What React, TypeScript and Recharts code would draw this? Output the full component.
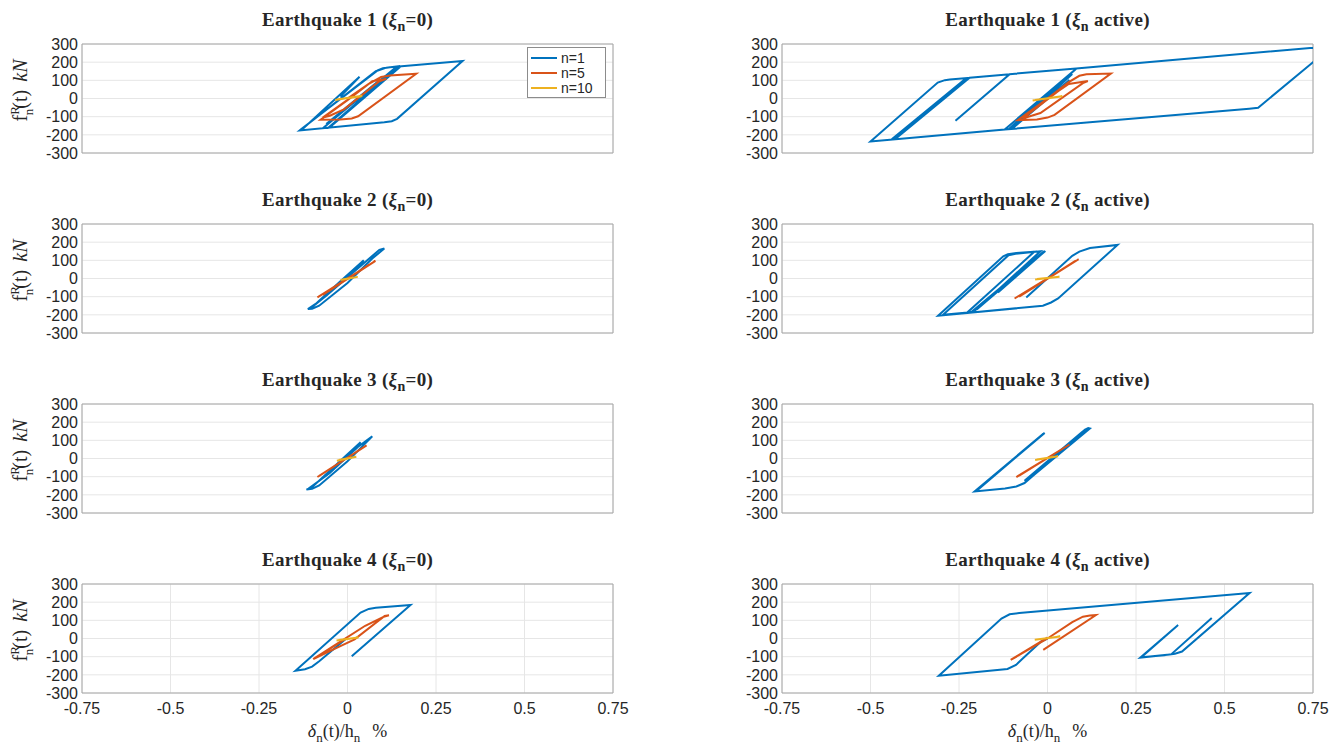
import React from 'react';
import { LineChart, Line, XAxis, YAxis, CartesianGrid, ReferenceArea, Legend } from 'recharts';

type P = [number, number];

const xTicks = [-0.75, -0.5, -0.25, 0, 0.25, 0.5, 0.75];
const yTicks = [-300, -200, -100, 0, 100, 200, 300];
const seriesNames = ['n=1', 'n=5', 'n=10'];
const seriesColors = ['#0072BD', '#D95319', '#EDB120'];
const earthquakeLabels = ['Earthquake 1', 'Earthquake 2', 'Earthquake 3', 'Earthquake 4'];

// Earthquake 1, xi_n = 0
const eq1ZeroN1: P[] = [
  [-0.02, 10], [0.034, 120], [-0.05, -30], [-0.125, -165], [-0.135, -175],
  [0.085, 155], [0.1, 166], [0.12, 172], [0.325, 207],
  [0.14, -112], [0.125, -125], [0.104, -131], [-0.135, -176],
  [0.08, 150], [0.11, 170], [0.14, 177],
  [-0.067, -160], [-0.055, -162], [0.145, 178],
  [-0.05, -158], [0.15, 176], [-0.06, -140], [0.09, 100],
];
const eq1ZeroN5: P[] = [
  [0, 0], [0.06, 80], [0.095, 118], [0.12, 126], [0.194, 136],
  [0.03, -98], [0.012, -110], [-0.02, -116], [-0.076, -117],
  [0.0, -10], [0.07, 95], [0.11, 108], [0.09, 95], [-0.01, -60],
  [-0.05, -95], [-0.07, -105], [0.02, 20],
];
const eq1ZeroN10: P[] = [[-0.035, -8], [0.042, 15], [-0.03, -5], [0.04, 12]];

// Earthquake 1, xi_n active
const eq1ActiveN1: P[] = [
  [0, 0], [0.062, 102], [-0.1, -167], [0.07, 135], [-0.11, -169], [0.081, 164], [-0.121, -171],
  [-0.5, -236], [-0.31, 88], [-0.29, 101], [-0.276, 105], [-0.226, 113],
  [-0.44, -225], [-0.23, 112], [-0.435, -224], [-0.224, 113], [-0.43, -223], [-0.22, 114],
  [-0.107, 134], [-0.26, -122], [-0.107, 134], [0.081, 165], [0.81, 290],
  [0.75, 200], [0.595, -51], [0.57, -56], [-0.121, -171],
];
const eq1ActiveN5: P[] = [
  [0, 0], [0.06, 90], [0.09, 125], [0.11, 133], [0.179, 137],
  [0.02, -90], [0.0, -105], [-0.03, -115], [-0.084, -119],
  [0.0, 0], [0.06, 80], [0.114, 96], [0.1, 85], [-0.02, -80], [-0.07, -110], [0.03, 40],
];
const eq1ActiveN10: P[] = [[-0.042, -11], [0.042, 13], [-0.035, -8], [0.04, 12]];

// Earthquake 2, xi_n = 0
const eq2ZeroN1: P[] = [
  [0, 0], [0.046, 100], [-0.02, -15], [-0.09, -140], [-0.112, -168], [-0.1, -166],
  [-0.08, -150], [0.0, -25], [0.07, 110], [0.104, 165], [0.09, 158], [0.02, 40],
  [-0.06, -95], [-0.105, -165],
];
const eq2ZeroN5: P[] = [[-0.085, -104], [0.079, 97], [-0.07, -90], [0.06, 75]];
const eq2ZeroN10: P[] = [[-0.02, -9], [0.029, 9], [-0.015, -5]];

// Earthquake 2, xi_n active
const eq2ActiveN1: P[] = [
  [-0.06, -104], [0.07, 125], [0.09, 148], [0.12, 168], [0.198, 185],
  [0.03, -110], [0.01, -132], [-0.013, -150], [-0.309, -205],
  [-0.125, 122], [-0.112, 134], [-0.088, 140], [-0.037, 148],
  [-0.225, -184], [-0.215, -185], [-0.01, 150], [-0.21, -185], [-0.295, -200],
  [-0.11, 128], [-0.09, 136], [-0.02, 150], [-0.2, -170], [-0.006, 152], [-0.14, -77],
];
const eq2ActiveN5: P[] = [[-0.093, -110], [0.088, 106], [-0.08, -100], [0.08, 98]];
const eq2ActiveN10: P[] = [[-0.035, -5], [0.034, 9], [-0.03, -3]];

// Earthquake 3, xi_n = 0
const eq3ZeroN1: P[] = [
  [-0.02, -20], [0.037, 90], [-0.01, 5], [-0.1, -158], [-0.116, -171], [-0.1, -167],
  [-0.08, -148], [0.0, -15], [0.07, 122], [0.03, 65], [-0.05, -80], [-0.11, -166],
];
const eq3ZeroN5: P[] = [[-0.085, -102], [0.054, 72], [-0.08, -96]];
const eq3ZeroN10: P[] = [[-0.03, -12], [0.025, 10], [-0.025, -8]];

// Earthquake 3, xi_n active
const eq3ActiveN1: P[] = [
  [-0.06, 56], [-0.008, 141], [-0.2, -177], [-0.012, 136], [-0.206, -181],
  [-0.12, -165], [-0.088, -154], [-0.065, -135], [0.09, 125], [0.105, 158],
  [0.115, 168], [0.12, 165], [-0.05, -110], [-0.065, -122], [0.1, 150],
  [0.113, 162], [-0.045, -100], [0.108, 158], [-0.04, -85],
];
const eq3ActiveN5: P[] = [[-0.088, -102], [0.062, 77], [-0.08, -95]];
const eq3ActiveN10: P[] = [[-0.035, -8], [0.03, 12], [-0.03, -5]];

// Earthquake 4, xi_n = 0
const eq4ZeroN1: P[] = [
  [0.0, 5], [-0.08, -125], [-0.1, -155], [-0.12, -169], [-0.147, -177],
  [0.037, 143], [0.06, 163], [0.08, 169], [0.178, 184], [0.012, -98],
];
const eq4ZeroN5: P[] = [
  [-0.097, -114], [-0.03, -30], [0.05, 70], [0.1, 118], [0.117, 128], [0.105, 124],
  [0.02, -5], [-0.05, -70], [-0.095, -112], [0.0, 5],
];
const eq4ZeroN10: P[] = [[-0.031, -11], [0.031, 6], [-0.025, -8]];

// Earthquake 4, xi_n active
const eq4ActiveN1: P[] = [
  [0.0, 0], [-0.018, -17], [-0.07, -110], [-0.089, -146], [-0.113, -168], [-0.307, -205],
  [-0.13, 110], [-0.107, 133], [-0.08, 140], [0.571, 251],
  [0.38, -72], [0.36, -84], [0.345, -88], [0.262, -105], [0.369, 74],
  [0.265, -103], [0.33, -92], [0.35, -86], [0.464, 113],
];
const eq4ActiveN5: P[] = [
  [-0.104, -118], [0.0, 5], [-0.1, -114], [0.0, 0], [0.07, 90], [0.1, 120],
  [0.12, 127], [0.137, 129], [-0.012, -63],
];
const eq4ActiveN10: P[] = [[-0.036, -7], [0.036, 11], [-0.03, -5]];

const panelSeries: P[][][] = [
  [eq1ZeroN1, eq1ZeroN5, eq1ZeroN10],
  [eq1ActiveN1, eq1ActiveN5, eq1ActiveN10],
  [eq2ZeroN1, eq2ZeroN5, eq2ZeroN10],
  [eq2ActiveN1, eq2ActiveN5, eq2ActiveN10],
  [eq3ZeroN1, eq3ZeroN5, eq3ZeroN10],
  [eq3ActiveN1, eq3ActiveN5, eq3ActiveN10],
  [eq4ZeroN1, eq4ZeroN5, eq4ZeroN10],
  [eq4ActiveN1, eq4ActiveN5, eq4ActiveN10],
];

const COL_LEFT = [82, 782];
const ROW_TOP = [44, 224, 404, 584];
const PLOT_W = 531;
const PLOT_H = 109;
const Y_AXIS_W = 60;
const PAD_T = 12;
const PAD_R = 28;
const PAD_B = 12;

const toRows = (pts: P[]) => pts.map(([x, y]) => ({ x, y }));

const tickStyle = { fontFamily: 'Liberation Sans, Arial, sans-serif', fontSize: 16, fill: '#262626' };

const LegendBox = () => (
  <div style={{ border: '1px solid #8c8c8c', background: '#fff', width: 77, padding: '2px 0 2px 0', fontFamily: 'Liberation Sans, Arial, sans-serif', fontSize: 14, color: '#262626' }}>
    {seriesNames.map((name, i) => (
      <div key={name} style={{ display: 'flex', alignItems: 'center', height: 15 }}>
        <svg width={30} height={10} style={{ marginLeft: 3 }}>
          <line x1={0} y1={5} x2={26} y2={5} stroke={seriesColors[i]} strokeWidth={2} />
        </svg>
        <span>{name}</span>
      </div>
    ))}
  </div>
);

const Panel = ({ idx }: { idx: number }) => {
  const col = idx % 2;
  const row = Math.floor(idx / 2);
  const bottom = row === 3;
  const xH = bottom ? 30 : 1;
  const left = COL_LEFT[col] - Y_AXIS_W;
  const top = ROW_TOP[row] - PAD_T;
  const width = Y_AXIS_W + PLOT_W + PAD_R;
  const height = PAD_T + PLOT_H + xH + PAD_B;
  const series = panelSeries[idx];
  return (
    <div style={{ position: 'absolute', left, top, width, height }}>
      <LineChart width={width} height={height} margin={{ top: PAD_T, right: PAD_R, left: 0, bottom: PAD_B }}>
        <CartesianGrid stroke="#e6e6e6" strokeWidth={1} />
        <XAxis
          dataKey="x"
          type="number"
          domain={[-0.75, 0.75]}
          ticks={xTicks}
          interval={0}
          allowDataOverflow
          height={xH}
          tick={bottom ? tickStyle : false}
          tickLine={false}
          axisLine={false}
          tickSize={2}
          tickMargin={8}
        />
        <YAxis
          dataKey="y"
          type="number"
          domain={[-300, 300]}
          ticks={yTicks}
          interval={0}
          allowDataOverflow
          width={Y_AXIS_W}
          tick={tickStyle}
          tickLine={false}
          axisLine={false}
          tickSize={2}
          tickMargin={2}
        />
        <ReferenceArea x1={-0.75} x2={0.75} y1={-300} y2={300} fill="none" stroke="#a6a6a6" strokeWidth={1} />
        {series.map((pts, i) => (
          <Line
            key={seriesNames[i]}
            name={seriesNames[i]}
            data={toRows(pts)}
            dataKey="y"
            type="linear"
            stroke={seriesColors[i]}
            strokeWidth={2}
            dot={false}
            activeDot={false}
            isAnimationActive={false}
          />
        ))}
        {idx === 0 && (
          <Legend
            layout="horizontal"
            verticalAlign="middle"
            align="center"
            content={<LegendBox />}
            wrapperStyle={{ position: 'absolute', left: 527 - left, top: 47 - top, width: 79, height: 'auto' }}
          />
        )}
      </LineChart>
    </div>
  );
};

const serif = 'Liberation Serif, "DejaVu Serif", serif';

const Title = ({ idx }: { idx: number }) => {
  const col = idx % 2;
  const row = Math.floor(idx / 2);
  const cx = COL_LEFT[col] + PLOT_W / 2;
  const y = ROW_TOP[row] - 18;
  return (
    <text x={cx} y={y} textAnchor="middle" fontFamily={serif} fontWeight="bold" fontSize={19} fill="#262626" letterSpacing={0.3}>
      {earthquakeLabels[row] + ' ('}
      <tspan fontStyle="italic">ξ</tspan>
      <tspan dy={5} fontSize={14}>n</tspan>
      <tspan dy={-5}>{col === 0 ? '=0)' : ' active)'}</tspan>
    </text>
  );
};

const YLabel = ({ row }: { row: number }) => {
  const cx = 27;
  const cy = ROW_TOP[row] + PLOT_H / 2 - 8;
  return (
    <text transform={`rotate(-90 ${cx} ${cy})`} x={cx} y={cy} textAnchor="middle" fontFamily={serif} fontSize={20} fill="#262626">
      f
      <tspan dy={-8} fontSize={13}>R</tspan>
      <tspan dx={-9} dy={14} fontSize={13}>n</tspan>
      <tspan dy={-6}>(t)</tspan>
      <tspan dx={8} fontStyle="italic">kN</tspan>
    </text>
  );
};

const XLabel = ({ col }: { col: number }) => {
  const cx = COL_LEFT[col] + PLOT_W / 2;
  return (
    <text x={cx} y={737} textAnchor="middle" fontFamily={serif} fontSize={18} fill="#262626">
      <tspan fontStyle="italic">δ</tspan>
      <tspan dy={5} fontSize={13}>n</tspan>
      <tspan dy={-5}>(t)/h</tspan>
      <tspan dy={5} fontSize={13}>n</tspan>
      <tspan dy={-5} dx={12}>%</tspan>
    </text>
  );
};

export default function App() {
  return (
    <div style={{ position: 'absolute', left: 0, top: 0, width: 1344, height: 744, background: '#fff', overflow: 'hidden' }}>
      {panelSeries.map((_, i) => (
        <Panel key={i} idx={i} />
      ))}
      <svg width={1344} height={744} style={{ position: 'absolute', left: 0, top: 0, pointerEvents: 'none' }}>
        {panelSeries.map((_, i) => (
          <Title key={i} idx={i} />
        ))}
        {[0, 1, 2, 3].map((r) => (
          <YLabel key={r} row={r} />
        ))}
        <XLabel col={0} />
        <XLabel col={1} />
      </svg>
    </div>
  );
}
